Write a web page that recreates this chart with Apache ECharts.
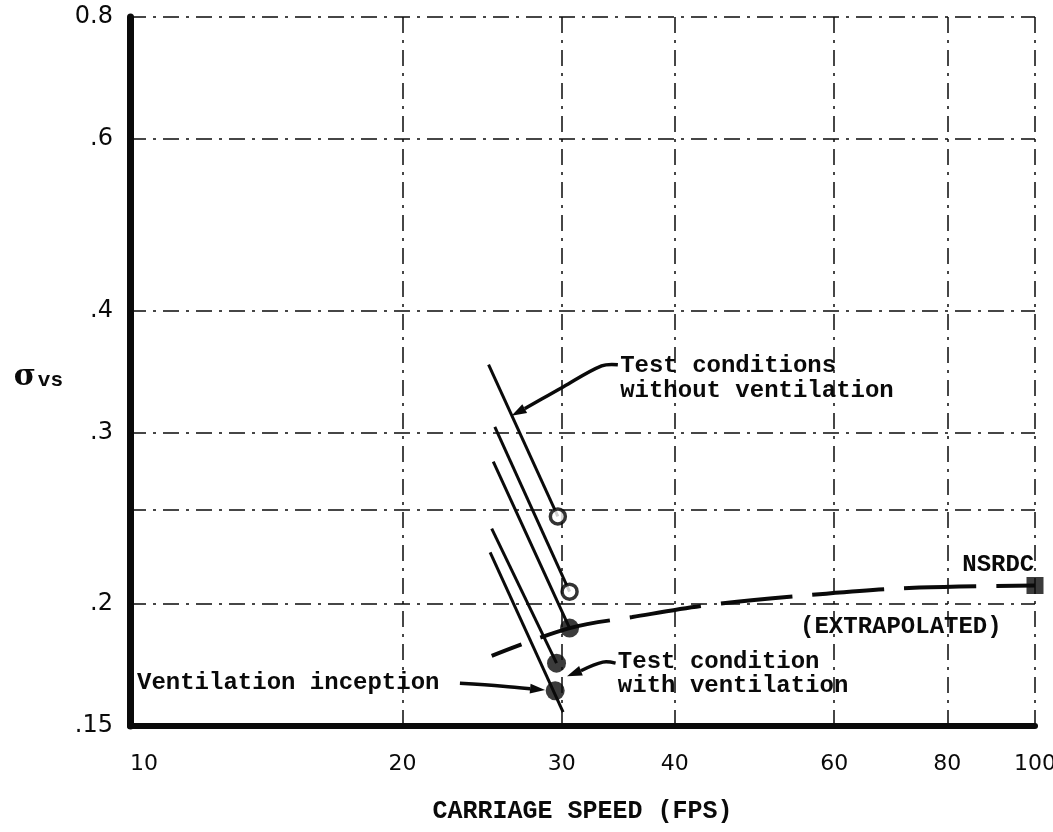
<!DOCTYPE html>
<html>
<head>
<meta charset="utf-8">
<script src="https://cdn.jsdelivr.net/npm/echarts@6/dist/echarts.min.js"></script>
<style>
  html, body { margin: 0; padding: 0; background: #fff; }
  #chart { width: 1053px; height: 832px; }
</style>
</head>
<body>
<div id="chart"></div>
<script>
// ---- Axis ticks ----
const speedTicks = [10, 20, 30, 40, 60, 80, 100];
const sigmaGrid = [0.15, 0.2, 0.25, 0.3, 0.4, 0.6, 0.8];
const sigmaLabels = [0.15, 0.2, 0.3, 0.4, 0.6, 0.8];

// ---- Test condition lines (carriage speed, cavitation number) ----
const lineStartSpeed = [24.9, 25.3, 25.2, 25.1, 25.0];
const lineStartSigma = [0.352, 0.304, 0.280, 0.239, 0.226];
const lineEndSpeed = [29.7, 30.6, 30.6, 29.6, 30.1];
const lineEndSigma = [0.246, 0.206, 0.189, 0.174, 0.155];

// ---- Points ----
const openSpeed = [29.7, 30.6];          // without ventilation
const openSigma = [0.246, 0.206];
const filledSpeed = [30.6, 29.6];        // with ventilation
const filledSigma = [0.189, 0.174];
const inceptionSpeed = [29.5];           // ventilation inception
const inceptionSigma = [0.163];
const nsrdcSpeed = [100];
const nsrdcSigma = [0.209];

// ---- Extrapolated curve ----
const extrapSpeed = [25.1, 30.6, 35.9, 44.4, 58.8, 74.5, 100];
const extrapSigma = [0.177, 0.189, 0.194, 0.200, 0.205, 0.208, 0.209];

// ---- Annotation leader lines (data units) ----
const arrowNoVentSpeed = [34.6, 33.2, 30.1, 27.5, 26.4];
const arrowNoVentSigma = [0.352, 0.351, 0.334, 0.3185, 0.312];
const arrowVentSpeed = [34.4, 33.3, 30.4];
const arrowVentSigma = [0.174, 0.1744, 0.1687];
const arrowInceptSpeed = [23.15, 25.83, 28.75];
const arrowInceptSigma = [0.1659, 0.1648, 0.1633];

const pairs = (xs, ys) => xs.map((x, i) => [x, ys[i]]);

const INK = '#0a0a0a';
const MONO = '"Liberation Mono", "DejaVu Sans Mono", monospace';
const SANS = '"DejaVu Sans", "Liberation Sans", sans-serif';

const series = [];
lineStartSpeed.forEach((s, i) => {
  series.push({
    type: 'line',
    data: [[s, lineStartSigma[i]], [lineEndSpeed[i], lineEndSigma[i]]],
    symbol: 'none',
    lineStyle: { color: INK, width: 3 },
    z: 3,
    silent: true
  });
});
series.push({
  type: 'line',
  data: pairs(extrapSpeed, extrapSigma),
  smooth: 0.35,
  symbol: 'none',
  lineStyle: { color: INK, width: 4, type: [72, 20], dashOffset: 40 },
  z: 3
});
series.push({
  type: 'scatter',
  data: pairs(openSpeed, openSigma),
  symbol: 'circle',
  symbolSize: 15,
  itemStyle: { color: '#fff', borderColor: '#000', borderWidth: 3.5 },
  z: 5
});
series.push({
  type: 'scatter',
  data: pairs(filledSpeed, filledSigma).concat(pairs(inceptionSpeed, inceptionSigma)),
  symbol: 'circle',
  symbolSize: 19,
  itemStyle: { color: INK },
  z: 5
});
series.push({
  type: 'scatter',
  data: pairs(nsrdcSpeed, nsrdcSigma),
  symbol: 'rect',
  symbolSize: 17,
  itemStyle: { color: INK },
  z: 5
});

const gridLine = { show: true, lineStyle: { color: INK, width: 1.5, type: [16, 7, 3, 7] } };

const option = {
  animation: false,
  backgroundColor: '#fff',
  grid: { left: 130, right: 18, top: 17, bottom: 106, containLabel: false, outerBoundsMode: 'none' },
  xAxis: {
    type: 'log',
    logBase: 10,
    min: 10,
    max: 100,
    axisLine: { show: true, onZero: false, lineStyle: { color: INK, width: 6 } },
    axisTick: { show: false, customValues: speedTicks },
    axisLabel: {
      customValues: speedTicks,
      formatter: v => String(Math.round(v)),
      fontFamily: SANS, fontSize: 22, color: INK, margin: 27,
      alignMinLabel: 'left'
    },
    splitLine: gridLine,
    name: 'CARRIAGE SPEED (FPS)',
    nameLocation: 'middle',
    nameGap: 73,
    nameTextStyle: { fontFamily: MONO, fontSize: 25, fontWeight: 'bold', color: INK }
  },
  yAxis: {
    type: 'log',
    logBase: 10,
    min: 0.15,
    max: 0.8,
    axisLine: { show: true, onZero: false, lineStyle: { color: INK, width: 7 } },
    axisTick: { show: false, customValues: sigmaGrid },
    axisLabel: {
      customValues: sigmaLabels,
      formatter: v => (v === 0.8 ? '0.8' : String(v).replace(/^0/, '')),
      fontFamily: SANS, fontSize: 24, color: INK, margin: 17
    },
    splitLine: gridLine,
    name: '{s|σ}{v|vs}',
    nameLocation: 'middle',
    nameRotate: 0,
    nameGap: 67,
    nameTextStyle: {
      padding: [12, 0, 0, 0],
      rich: {
        s: { fontFamily: '"DejaVu Serif", serif', fontSize: 30, color: INK, fontWeight: 'bold' },
        v: { fontFamily: MONO, fontSize: 21, color: INK, fontWeight: 'bold', padding: [6, 0, 0, 2] }
      }
    }
  },
  series: series
};

const chart = echarts.init(document.getElementById('chart'), null, { renderer: 'canvas' });
chart.setOption(option);

// ---- Annotations, placed through the axes ----
const toPx = (s, g) => chart.convertToPixel({ gridIndex: 0 }, [s, g]);

function leader(xs, ys) {
  const pts = xs.map((x, i) => toPx(x, ys[i]));
  const n = pts.length;
  const [x1, y1] = pts[n - 2];
  const [x2, y2] = pts[n - 1];
  const a = Math.atan2(y2 - y1, x2 - x1);
  const L = 15, W = 5;
  const bx = x2 - L * Math.cos(a), by = y2 - L * Math.sin(a);
  const head = [
    [x2, y2],
    [bx + W * Math.sin(a), by - W * Math.cos(a)],
    [bx - W * Math.sin(a), by + W * Math.cos(a)]
  ];
  return [
    { type: 'polyline', z: 10, shape: { points: pts.slice(0, n - 1).concat([[bx, by]]), smooth: 0.35 },
      style: { stroke: INK, lineWidth: 3.5, fill: null } },
    { type: 'polygon', z: 10, shape: { points: head }, style: { fill: INK } }
  ];
}

function note(text, s, g, align) {
  const [x, y] = toPx(s, g);
  return {
    type: 'text', z: 11, x: x, y: y,
    style: {
      text: text, fill: INK, font: 'bold 24px ' + MONO,
      align: align || 'left', verticalAlign: 'middle'
    }
  };
}

chart.setOption({
  graphic: [].concat(
    leader(arrowNoVentSpeed, arrowNoVentSigma),
    leader(arrowVentSpeed, arrowVentSigma),
    leader(arrowInceptSpeed, arrowInceptSigma),
    [
      note('Test conditions', 34.8, 0.351),
      note('without ventilation', 34.8, 0.331),
      note('Test condition', 34.6, 0.1744),
      note('with ventilation', 34.6, 0.1648),
      note('Ventilation inception', 10.18, 0.1659),
      note('NSRDC', 83.1, 0.2193),
      note('(EXTRAPOLATED)', 55.0, 0.1894)
    ]
  )
});
</script>
</body>
</html>
